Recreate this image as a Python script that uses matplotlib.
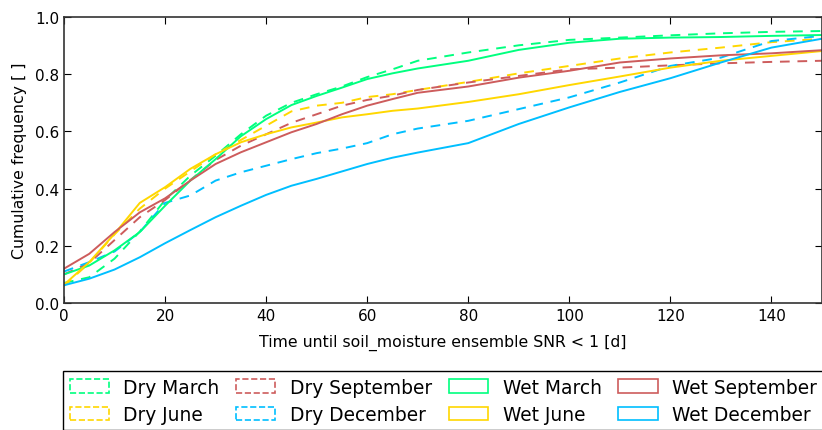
import numpy as np
import matplotlib
matplotlib.use('Agg')
import matplotlib.pyplot as plt
from matplotlib.patches import Patch

# 1. Dados (frequência acumulada por dia)
days = [0, 5, 10, 15, 20, 25, 30, 35, 40, 45, 50, 55, 60, 65, 70,
        80, 90, 100, 110, 120, 130, 140, 150]

dry_march = [0.07, 0.09, 0.155, 0.25, 0.36, 0.445, 0.515, 0.59, 0.655, 0.70, 0.73, 0.757, 0.79, 0.817, 0.847,
             0.876, 0.901, 0.92, 0.928, 0.936, 0.943, 0.948, 0.951]
dry_june = [0.06, 0.14, 0.24, 0.33, 0.40, 0.46, 0.52, 0.57, 0.62, 0.67, 0.69, 0.70, 0.72, 0.73, 0.745,
            0.773, 0.803, 0.829, 0.855, 0.876, 0.893, 0.912, 0.924]
dry_september = [0.10, 0.14, 0.22, 0.30, 0.36, 0.43, 0.50, 0.55, 0.59, 0.63, 0.66, 0.69, 0.71, 0.725, 0.745,
                 0.771, 0.794, 0.817, 0.823, 0.831, 0.838, 0.843, 0.847]
dry_december = [0.11, 0.143, 0.18, 0.248, 0.35, 0.376, 0.428, 0.457, 0.48, 0.503, 0.524, 0.54, 0.559, 0.59, 0.61,
                0.637, 0.678, 0.719, 0.771, 0.829, 0.858, 0.916, 0.934]

wet_march = [0.10, 0.131, 0.184, 0.248, 0.34, 0.428, 0.503, 0.583, 0.643, 0.692, 0.724, 0.753, 0.783, 0.803, 0.82,
             0.847, 0.885, 0.91, 0.924, 0.928, 0.93, 0.934, 0.937]
wet_june = [0.064, 0.143, 0.242, 0.35, 0.405, 0.469, 0.52, 0.562, 0.59, 0.614, 0.631, 0.649, 0.66, 0.672, 0.68,
            0.703, 0.73, 0.762, 0.792, 0.823, 0.847, 0.864, 0.881]
wet_september = [0.12, 0.172, 0.248, 0.317, 0.366, 0.428, 0.486, 0.527, 0.562, 0.597, 0.626, 0.66, 0.69, 0.713, 0.735,
                 0.757, 0.788, 0.812, 0.841, 0.855, 0.866, 0.873, 0.884]
wet_december = [0.062, 0.085, 0.117, 0.16, 0.209, 0.255, 0.30, 0.34, 0.378, 0.41, 0.434, 0.46, 0.486, 0.508, 0.526,
                0.559, 0.626, 0.684, 0.738, 0.786, 0.841, 0.893, 0.924]

labels = ['Dry March', 'Dry June', 'Dry September', 'Dry December',
          'Wet March', 'Wet June', 'Wet September', 'Wet December']
series = [dry_march, dry_june, dry_september, dry_december,
          wet_march, wet_june, wet_september, wet_december]
cores = ['springgreen', 'gold', 'indianred', 'deepskyblue'] * 2

# 2. Figura
fig = plt.figure(figsize=(8.22, 4.31), dpi=100)
ax = fig.add_axes([64 / 822, 1 - 304 / 431, 758 / 822, 286 / 431])

for i, (lab, vals) in enumerate(zip(labels, series)):
    ls = (0, (5, 4)) if lab.startswith('Dry') else '-'
    ax.plot(days, vals, color=cores[i], lw=1.4, linestyle=ls)

ax.set_xlim(0, 150)
ax.set_ylim(0, 1.0)
ax.set_xticks(np.arange(0, 141, 20))
ax.set_yticks(np.arange(0, 1.01, 0.2))
ax.tick_params(direction='in', length=5, top=True, right=True, labelsize=11, pad=3.5)
for s in ax.spines.values():
    s.set_linewidth(1.2)
    s.set_color('#333333')
ax.set_xlabel('Time until soil_moisture ensemble SNR < 1 [d]', fontsize=11.3, labelpad=8)
ax.set_ylabel('Cumulative frequency [ ]', fontsize=11.3, labelpad=6)

# 3. Legenda (patches, como em hist step)
handles = []
for i, lab in enumerate(labels):
    ls = '--' if lab.startswith('Dry') else '-'
    handles.append(Patch(facecolor='none', edgecolor=cores[i], linestyle=ls, lw=1.2, label=lab))

fig.legend(handles=handles, ncol=4, loc='upper left',
           bbox_to_anchor=(63 / 822, 1 - 372 / 431), bbox_transform=fig.transFigure,
           borderaxespad=0, fancybox=False, framealpha=1, edgecolor='black',
           prop={'size': 13.4},
           handlelength=2.1, handleheight=0.7, handletextpad=0.8, columnspacing=0.89,
           labelspacing=0.45, borderpad=0.35)

plt.savefig('out.png', dpi=100)
plt.close()
